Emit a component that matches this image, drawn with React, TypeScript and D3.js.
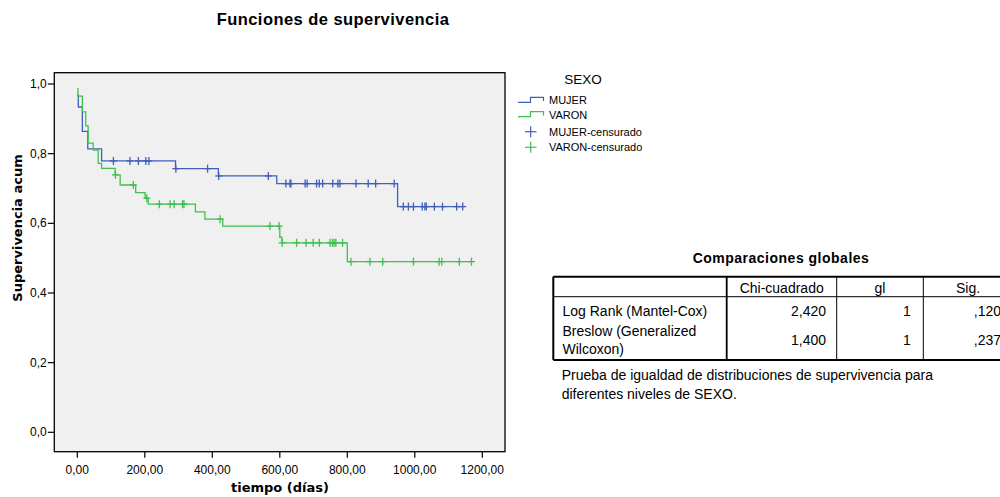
import React from "react";
import * as d3 from "d3";

// Kaplan-Meier estimates: event times (días) and survival after each step
const mujerTimes = [0, 3, 15, 31, 72, 291, 418, 591, 949];
const mujerSurv = [0.968, 0.934, 0.864, 0.814, 0.779, 0.757, 0.736, 0.714, 0.648];
const mujerCensored = [
  107, 156, 181, 203, 212, 292, 386, 419, 566, 618, 630, 633, 675, 681, 709, 717,
  727, 757, 772, 778, 826, 862, 884, 939, 966, 981, 996, 1022, 1030, 1034, 1058,
  1082, 1124, 1142,
];

const varonTimes = [0, 2, 15, 25, 32, 47, 62, 72, 112, 127, 173, 201, 210, 350, 378, 431, 600, 606, 800];
const varonSurv = [
  0.987, 0.965, 0.92, 0.88, 0.83, 0.81, 0.772, 0.758, 0.739, 0.71, 0.688, 0.672,
  0.655, 0.633, 0.612, 0.592, 0.56, 0.544, 0.49,
];
const varonCensored = [
  113, 166, 206, 243, 275, 287, 312, 316, 423, 571, 598, 607, 650, 678, 699, 717,
  749, 756, 761, 766, 786, 811, 867, 905, 996, 1072, 1080, 1132, 1168,
];

const xTicks = [0, 200, 400, 600, 800, 1000, 1200];
const yTicks = [0, 0.2, 0.4, 0.6, 0.8, 1.0];

// Global comparisons table
const testNames = [["Log Rank (Mantel-Cox)"], ["Breslow (Generalized", "Wilcoxon)"]];
const chiSquare = [2.42, 1.4];
const degrees = [1, 1];
const significance = [0.12, 0.237];
const tableHeaders = ["Chi-cuadrado", "gl", "Sig."];

const BLUE = "#3f5fba";
const GREEN = "#3fc04f";
const SANS = "'Liberation Sans', Arial, sans-serif";
const DEJAVU = "'DejaVu Sans', Verdana, sans-serif";

const comma = (v: number, d: number) => v.toFixed(d).replace(".", ",");
const sigFmt = (v: number) => comma(v, 3).replace(/^0/, "");

const x = d3.scaleLinear().domain([0, 1200]).range([77.3, 482.3]);
const y = d3.scaleLinear().domain([0, 1]).range([432.3, 84]);

const frame = { left: 54.3, top: 72.7, right: 505, bottom: 451.7 };

function survivalAt(times: number[], surv: number[], t: number) {
  const i = d3.bisectRight(times, t) - 1;
  return surv[Math.max(0, i)];
}

function stepPath(times: number[], surv: number[], end: number) {
  const pts: [number, number][] = times.map((t, i) => [t, surv[i]]);
  pts.push([end, surv[surv.length - 1]]);
  const line = d3
    .line<[number, number]>()
    .x((d) => x(d[0]))
    .y((d) => y(d[1]))
    .curve(d3.curveStepAfter);
  return line(pts) || "";
}

function Censors({ times, surv, censored, color }: { times: number[]; surv: number[]; censored: number[]; color: string }) {
  return (
    <g stroke={color} strokeWidth={1.3}>
      {censored.map((t, i) => {
        const cx = x(t);
        const cy = y(survivalAt(times, surv, t));
        return (
          <g key={i}>
            <line x1={cx} x2={cx} y1={cy - 4} y2={cy + 4} />
            <line x1={cx - 3.5} x2={cx + 3.5} y1={cy} y2={cy} />
          </g>
        );
      })}
    </g>
  );
}

export default function App() {
  const mujerEnd = d3.max(mujerCensored) as number;
  const varonEnd = d3.max(varonCensored) as number;

  // table layout
  const cols = [553.3, 726.7, 836.7, 923.3, 1013];
  const tTop = 276.7;
  const tHeadBottom = 296.7;
  const tBottom = 360;
  const headerCenters = [781.7, 880, 968];
  const valueRights = [826, 910.7, 1001];
  const rowBaselines = [[315.5], [335.5, 354]];
  const valueBaselines = [315.5, 345];

  return (
    <svg
      width={1000}
      height={497}
      style={{ position: "absolute", left: 0, top: 0, background: "#fff" }}
    >
      <rect x={0} y={0} width={1000} height={497} fill="#fff" />
      {/* title */}
      <text x={333} y={24.5} textAnchor="middle" fontFamily={SANS} fontWeight="bold" fontSize={16.5} letterSpacing={0.45} fill="#000">
        Funciones de supervivencia
      </text>

      {/* plot area */}
      <rect
        x={frame.left}
        y={frame.top}
        width={frame.right - frame.left}
        height={frame.bottom - frame.top}
        fill="#f0f0f0"
        stroke="#000"
        strokeWidth={1.3}
      />

      {/* y axis */}
      <g fontFamily={SANS} fontSize={12} fill="#000">
        {yTicks.map((v) => (
          <g key={v}>
            <line x1={frame.left - 6.5} x2={frame.left} y1={y(v)} y2={y(v)} stroke="#000" strokeWidth={1.2} />
            <text x={frame.left - 7.5} y={y(v) + 4} textAnchor="end">
              {comma(v, 1)}
            </text>
          </g>
        ))}
      </g>

      {/* x axis */}
      <g fontFamily={SANS} fontSize={12} fill="#000">
        {xTicks.map((v) => (
          <g key={v}>
            <line x1={x(v)} x2={x(v)} y1={frame.bottom} y2={frame.bottom + 6} stroke="#000" strokeWidth={1.2} />
            <text x={x(v)} y={frame.bottom + 22} textAnchor="middle">
              {comma(v, 2)}
            </text>
          </g>
        ))}
      </g>

      <text x={280} y={492} textAnchor="middle" fontFamily={DEJAVU} fontWeight="bold" fontSize={13} fill="#000">
        tiempo (días)
      </text>
      <text
        transform={`translate(22,${228}) rotate(-90)`}
        textAnchor="middle"
        fontFamily={DEJAVU}
        fontWeight="bold"
        fontSize={13}
        fill="#000"
      >
        Supervivencia acum
      </text>

      {/* survival curves */}
      <path d={stepPath(mujerTimes, mujerSurv, mujerEnd)} fill="none" stroke={BLUE} strokeWidth={1.3} />
      <path d={stepPath(varonTimes, varonSurv, varonEnd)} fill="none" stroke={GREEN} strokeWidth={1.3} />
      <Censors times={mujerTimes} surv={mujerSurv} censored={mujerCensored} color={BLUE} />
      <Censors times={varonTimes} surv={varonSurv} censored={varonCensored} color={GREEN} />

      {/* legend */}
      <g fontFamily={SANS} fill="#000">
        <text x={583} y={84} textAnchor="middle" fontSize={13.5}>
          SEXO
        </text>
        <path d="M518,102.3 H530.5 V97.3 H543.5 V101" fill="none" stroke={BLUE} strokeWidth={1.2} />
        <text x={549} y={104} fontSize={11}>MUJER</text>
        <path d="M518,116.7 H530.5 V111.7 H543.5 V115.4" fill="none" stroke={GREEN} strokeWidth={1.2} />
        <text x={549} y={118.5} fontSize={11}>VARON</text>
        <g stroke={BLUE} strokeWidth={1.2}>
          <line x1={525} x2={536.5} y1={131.7} y2={131.7} />
          <line x1={530.7} x2={530.7} y1={126.2} y2={137.2} />
        </g>
        <text x={549} y={135.5} fontSize={11}>MUJER-censurado</text>
        <g stroke={GREEN} strokeWidth={1.2}>
          <line x1={525} x2={536.5} y1={147.3} y2={147.3} />
          <line x1={530.7} x2={530.7} y1={141.8} y2={152.8} />
        </g>
        <text x={549} y={151.2} fontSize={11}>VARON-censurado</text>
      </g>

      {/* comparisons table */}
      <g fontFamily={SANS} fill="#000">
        <text x={781} y={263} textAnchor="middle" fontWeight="bold" fontSize={14} letterSpacing={0.5}>
          Comparaciones globales
        </text>
        <line x1={cols[0]} x2={cols[4]} y1={tTop} y2={tTop} stroke="#000" strokeWidth={2} />
        <line x1={cols[0]} x2={cols[4]} y1={tBottom} y2={tBottom} stroke="#000" strokeWidth={2} />
        <line x1={cols[0]} x2={cols[4]} y1={tHeadBottom} y2={tHeadBottom} stroke="#000" strokeWidth={1} />
        <line x1={cols[0]} x2={cols[0]} y1={tTop} y2={tBottom} stroke="#000" strokeWidth={2} />
        <line x1={cols[1]} x2={cols[1]} y1={tTop} y2={tBottom} stroke="#000" strokeWidth={1.8} />
        <line x1={cols[2]} x2={cols[2]} y1={tTop} y2={tBottom} stroke="#000" strokeWidth={1} />
        <line x1={cols[3]} x2={cols[3]} y1={tTop} y2={tBottom} stroke="#000" strokeWidth={1} />
        {tableHeaders.map((h, i) => (
          <text key={h} x={headerCenters[i]} y={293} textAnchor="middle" fontSize={14}>
            {h}
          </text>
        ))}
        {testNames.map((lines, r) => (
          <g key={r}>
            {lines.map((ln, k) => (
              <text key={k} x={562.5} y={rowBaselines[r][k]} fontSize={14}>
                {ln}
              </text>
            ))}
            <text x={valueRights[0]} y={valueBaselines[r]} textAnchor="end" fontSize={14}>
              {comma(chiSquare[r], 3)}
            </text>
            <text x={valueRights[1]} y={valueBaselines[r]} textAnchor="end" fontSize={14}>
              {degrees[r]}
            </text>
            <text x={valueRights[2]} y={valueBaselines[r]} textAnchor="end" fontSize={14}>
              {sigFmt(significance[r])}
            </text>
          </g>
        ))}
        <text x={561.7} y={380} fontSize={14}>
          Prueba de igualdad de distribuciones de supervivencia para
        </text>
        <text x={561.7} y={399} fontSize={14}>
          diferentes niveles de SEXO.
        </text>
      </g>
    </svg>
  );
}
